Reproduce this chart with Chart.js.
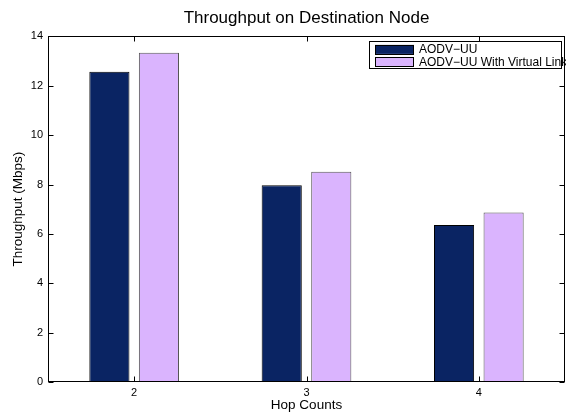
<!DOCTYPE html>
<html>
<head>
<meta charset="utf-8">
<script src="https://cdn.jsdelivr.net/npm/chart.js@4.4.0/dist/chart.umd.min.js"></script>
<style>
  html, body { margin: 0; padding: 0; background: #fff; }
  canvas { display: block; }
</style>
</head>
<body>
<canvas id="hopChart" width="566" height="412"></canvas>
<script>
// data
const hopCounts = ['2', '3', '4'];
const aodvUU = [12.57, 7.97, 6.36];
const aodvVirtual = [13.34, 8.52, 6.87];
const yTicks = [0, 2, 4, 6, 8, 10, 12, 14];

const FONT = "'Liberation Sans', Arial, Helvetica, sans-serif";

// matlab style box, inward ticks and legend inside the axes
const matlabBox = {
    id: 'matlabBox',
    afterDraw(chart) {
        const ctx = chart.ctx;
        const a = chart.chartArea;
        const xs = chart.scales.x;
        const ys = chart.scales.y;
        const L = Math.round(a.left) + 0.5, R = Math.round(a.right) - 0.5;
        const T = Math.round(a.top) + 0.5, B = Math.round(a.bottom) - 0.5;
        ctx.save();
        ctx.strokeStyle = '#000';
        ctx.lineWidth = 1;
        ctx.strokeRect(L, T, R - L, B - T);
        ctx.beginPath();
        yTicks.forEach(v => {
            const y = Math.round(ys.getPixelForValue(v)) + 0.5;
            ctx.moveTo(L, y); ctx.lineTo(L + 5, y);
            ctx.moveTo(R, y); ctx.lineTo(R - 5, y);
        });
        hopCounts.forEach((c, i) => {
            const x = Math.round(xs.getPixelForValue(i)) + 0.5;
            ctx.moveTo(x, B); ctx.lineTo(x, B - 5);
            ctx.moveTo(x, T); ctx.lineTo(x, T + 5);
        });
        ctx.stroke();

        // legend
        const bx = a.right - 196, by = a.top + 5, bw = 192, bh = 27;
        ctx.fillStyle = '#fff';
        ctx.fillRect(bx, by, bw, bh);
        ctx.strokeRect(Math.round(bx) + 0.5, Math.round(by) + 0.5, bw, bh);
        ctx.font = '12px ' + FONT;
        ctx.textBaseline = 'middle';
        chart.data.datasets.forEach((ds, i) => {
            const cy = by + 8 + i * 12.5;
            ctx.fillStyle = ds.backgroundColor;
            ctx.fillRect(bx + 6, cy - 4.5, 39, 9);
            ctx.strokeStyle = '#000';
            ctx.strokeRect(Math.round(bx + 6) + 0.5, Math.round(cy - 4.5) + 0.5, 38, 9);
            ctx.fillStyle = '#000';
            ctx.fillText(ds.label, bx + 50, cy + 0.5);
        });
        ctx.restore();
    }
};

const ctxA = document.getElementById('hopChart');
const hopChart = new Chart(ctxA, {
    type: 'bar',
    data: {
        labels: hopCounts,
        datasets: [{
            label: 'AODV\u2212UU',
            data: aodvUU,
            backgroundColor: 'rgb(10, 36, 99)',
            borderColor: '#000',
            borderWidth: 1,
            categoryPercentage: 0.575,
            barPercentage: 0.81
        },
        {
            label: 'AODV\u2212UU With Virtual Link',
            data: aodvVirtual,
            backgroundColor: 'rgb(218, 180, 254)',
            borderColor: '#555',
            borderWidth: 1,
            categoryPercentage: 0.575,
            barPercentage: 0.81
        }]
    },
    options: {
        responsive: false,
        animation: false,
        layout: { padding: { left: 0, right: 1, top: 0, bottom: 0 } },
        scales: {
            x: {
                offset: true,
                grid: { display: false, drawTicks: false },
                border: { display: false },
                ticks: { color: '#000', padding: 4, font: { family: FONT, size: 11 } },
                title: {
                    display: true,
                    text: 'Hop Counts',
                    color: '#000',
                    padding: { top: 0, bottom: -1 },
                    font: { family: FONT, size: 13.5 }
                },
                afterFit(scale) { scale.height = 30; }
            },
            y: {
                min: 0,
                max: 14,
                afterBuildTicks(scale) { scale.ticks = yTicks.map(v => ({ value: v })); },
                grid: { display: false, drawTicks: false },
                border: { display: false },
                ticks: { color: '#000', padding: 5, font: { family: FONT, size: 11 } },
                title: {
                    display: true,
                    text: 'Throughput (Mbps)',
                    color: '#000',
                    padding: { top: 10, bottom: 0 },
                    font: { family: FONT, size: 13.5 }
                },
                afterFit(scale) { scale.width = 48; }
            }
        },
        plugins: {
            legend: { display: false },
            tooltip: { enabled: false },
            title: {
                display: true,
                fullSize: false,
                text: 'Throughput on Destination Node',
                color: '#000',
                padding: { top: 8, bottom: 8 },
                font: { family: FONT, size: 17, weight: 'normal' }
            }
        }
    },
    plugins: [matlabBox]
});
</script>
</body>
</html>
